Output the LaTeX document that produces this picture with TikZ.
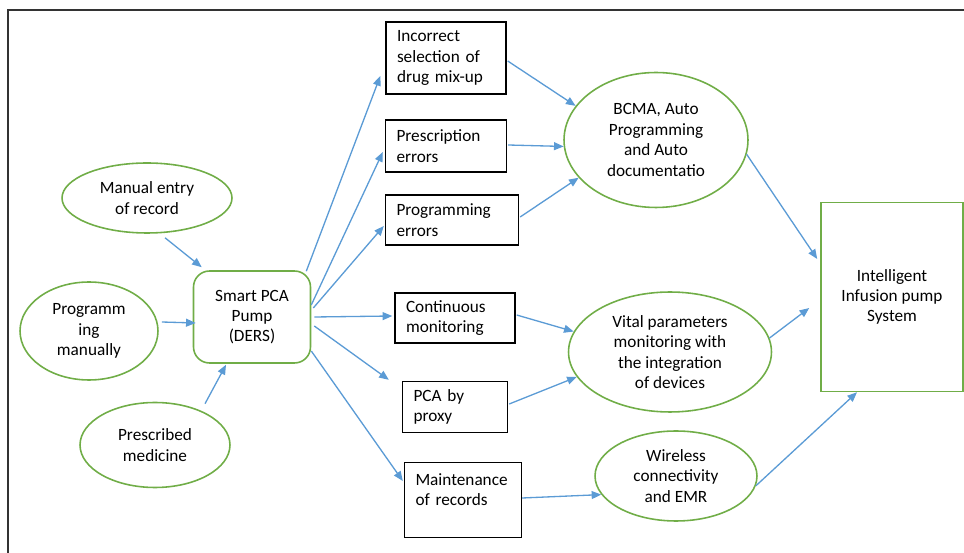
\documentclass[tikz,border=0pt]{standalone}
\usepackage{fontspec}
\setmainfont{Carlito}
\usetikzlibrary{shapes.geometric}
\usetikzlibrary{arrows.meta}
\usetikzlibrary{calc}
\definecolor{flowBlue}{HTML}{5B9BD5}
\definecolor{ovalGreen}{HTML}{70AD47}
\definecolor{frameGray}{HTML}{333333}

\begin{document}
\begin{tikzpicture}[%%
  x=0.02cm,y=-0.02cm,%%
  font=\fontsize{9.8}{11.6}\selectfont,%%
  arrowDecorate/.style={%%
    -{Triangle[length=5.5pt,width=4.5pt]},line width=0.75pt,draw=flowBlue%%
  },%%
  ovalDecorate/.style={ellipse,draw=ovalGreen,line width=0.9pt,inner sep=0pt,align=center},%%
  pumpDecorate/.style={rectangle,rounded corners=3.2mm,draw=ovalGreen,line width=0.9pt,align=center},%%
  boxDecorate/.style={rectangle,draw=black,line width=0.8pt,inner xsep=0.22cm,align=left},%%
  systemDecorate/.style={rectangle,draw=ovalGreen,line width=0.9pt,align=center},%%
  frameDecorate/.style={draw=frameGray,line width=0.8pt}%%
]
%%
%% Page size and frame.
\useasboundingbox (0,0) rectangle (964,553);
\draw[frameDecorate] (8,553) -- (8,10) -- (964,10);
%%
%% Inputs of the pump.
\node[ovalDecorate,minimum width=3.4cm,minimum height=1.4cm] (manual) at (147,198)
  {Manual entry\\of record};
\node[ovalDecorate,minimum width=2.76cm,minimum height=1.96cm] (progman) at (89,331)
  {Programm\\ing\\manually};
\node[ovalDecorate,minimum width=3.0cm,minimum height=1.7cm] (prescribed) at (155,445)
  {Prescribed\\medicine};
%%
%% The pump.
\node[pumpDecorate,minimum width=2.34cm,minimum height=1.84cm] (smart) at (252,317)
  {Smart PCA\\Pump\\(DERS)};
%%
%% Problems and functions.
\node[boxDecorate,text width=1.96cm,minimum height=1.44cm] (incorrect) at (446,58)
  {Incorrect\\selection of\\drug mix-up};
\node[boxDecorate,text width=1.98cm,minimum height=1.04cm] (prescerr) at (446,146)
  {Prescription\\errors};
\node[boxDecorate,text width=2.22cm,minimum height=1.0cm] (progerr) at (452,220)
  {Programming\\errors};
\node[boxDecorate,text width=1.96cm,minimum height=1.0cm] (continuous) at (455,318)
  {Continuous\\monitoring};
\node[boxDecorate,text width=1.66cm,minimum height=1.02cm] (proxy) at (455,407)
  {PCA by\\proxy};
\node[boxDecorate,text width=1.9cm,minimum height=1.5cm] (maintenance) at (463,500)
  {Maintenance\\of records\\~};
%%
%% Solutions.
\node[ovalDecorate,minimum width=3.68cm,minimum height=2.7cm] (bcma) at (656,140)
  {BCMA, Auto\\Programming\\and Auto\\documentatio};
\node[ovalDecorate,minimum width=4.06cm,minimum height=2.4cm] (vital) at (670,352)
  {Vital parameters\\monitoring with\\the integration\\of devices};
\node[ovalDecorate,minimum width=3.24cm,minimum height=1.8cm] (wireless) at (676,476)
  {Wireless\\connectivity\\and EMR};
%%
%% Result.
\node[systemDecorate,minimum width=2.84cm,minimum height=3.78cm] (system) at (892,297)
  {Intelligent\\Infusion pump\\System};
%%
%% Into the pump.
\draw[arrowDecorate] ($(manual.south)+(18,4)$) -- ($(smart.north west)+(9,-3)$);
\draw[arrowDecorate] ($(progman.east)+(3,-9)$) -- ($(smart.west)+(3,6)$);
\draw[arrowDecorate] ($(prescribed.north)+(50,2)$) -- ($(smart.south)+(-26,1)$);
%%
%% Out of the pump.
\draw[arrowDecorate] ($(smart.north east)+(-5,1)$) -- ($(incorrect.west)+(-5,18)$);
\draw[arrowDecorate] ($(smart.east)+(0,-12)$) -- ($(prescerr.west)+(-2,6)$);
\draw[arrowDecorate] ($(smart.east)+(2,-9)$) -- ($(progerr.west)+(-1,6)$);
\draw[arrowDecorate] ($(smart.east)+(3,0)$) -- ($(continuous.west)+(-2,-2)$);
\draw[arrowDecorate] ($(smart.east)+(3,9)$) -- ($(proxy.north west)+(-13,-1)$);
\draw[arrowDecorate] ($(smart.east)+(0,34)$) -- ($(maintenance.west)+(-1,-19)$);
%%
%% Into the solutions.
\draw[arrowDecorate] ($(incorrect.east)+(1,3)$) -- (bcma.157);
\draw[arrowDecorate] ($(prescerr.east)+(1,-1)$) -- (bcma.184);
\draw[arrowDecorate] ($(progerr.east)+(1,-3)$) -- (bcma.206);
\draw[arrowDecorate] ($(continuous.east)+(1,-3)$) -- (vital.168);
\draw[arrowDecorate] ($(proxy.east)+(1,-3)$) -- (vital.195);
\draw[arrowDecorate] ($(maintenance.east)+(0,-2)$) -- (wireless.194);
%%
%% Into the system.
\draw[arrowDecorate] (bcma.351) -- ($(system.west)+(-3,-38)$);
\draw[arrowDecorate] (vital.8) -- ($(system.west)+(-11,11)$);
\draw[arrowDecorate] (wireless.353) -- ($(system.south)+(-35,0)$);
\end{tikzpicture}
\end{document}
